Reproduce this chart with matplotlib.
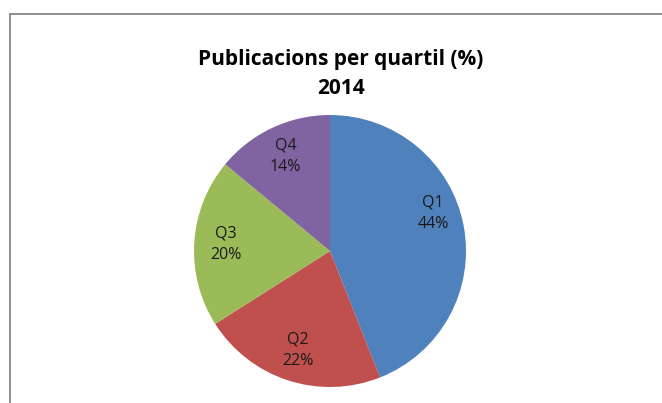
import matplotlib.pyplot as plt
from matplotlib.lines import Line2D

labels = ['Q1', 'Q2', 'Q3', 'Q4']
values = [44, 22, 20, 14]
colors = ['#4F81BD', '#C0504D', '#9BBB59', '#8064A2']
title_lines = ['Publicacions per quartil (%)', '2014']

W, H = 662, 403
fig = plt.figure(figsize=(W / 100, H / 100), dpi=100)
fig.patch.set_facecolor('white')

# chart frame (cropped on right and bottom)
frame_col = '#878787'
fig.add_artist(Line2D([10 / W, 1.01], [1 - 14 / H] * 2, color=frame_col, lw=1.3, transform=fig.transFigure))
fig.add_artist(Line2D([10 / W] * 2, [-0.01, 1 - 14 / H], color=frame_col, lw=1.3, transform=fig.transFigure))

cx, cy, r = 330, 251, 136
ax = fig.add_axes([(cx - r) / W, (H - cy - r) / H, 2 * r / W, 2 * r / H])

idx = iter(range(len(values)))


def fmt(pct):
    i = next(idx)
    return f'{labels[i]}\n{values[i]}%'


wedges, texts, autotexts = ax.pie(values, colors=colors, startangle=90, counterclock=False,
                                  autopct=fmt, pctdistance=0.77,
                                  wedgeprops=dict(linewidth=0),
                                  textprops=dict(fontsize=11.5, family='Open Sans', color='#1a1a1a'))
for t in autotexts:
    t.set_linespacing(1.45)
# Excel "best fit" puts the Q1 label a bit higher
x, y = autotexts[0].get_position()
autotexts[0].set_position((x, y + 0.13))

ax.set_xlim(-1, 1)
ax.set_ylim(-1, 1)
ax.set_aspect('equal')
ax.axis('off')

fig.text(341 / W, 1 - 65 / H, title_lines[0], ha='center', va='baseline',
         fontsize=15, fontweight='bold', family='Open Sans')
fig.text(341 / W, 1 - 94 / H, title_lines[1], ha='center', va='baseline',
         fontsize=15, fontweight='bold', family='Open Sans')

fig.savefig('out.png', dpi=100)
